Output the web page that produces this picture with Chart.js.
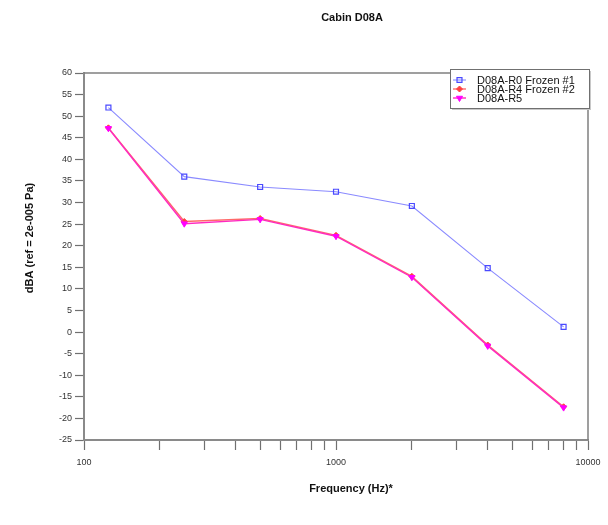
<!DOCTYPE html>
<html>
<head>
<meta charset="utf-8">
<script src="https://cdn.jsdelivr.net/npm/chart.js@4.4.0/dist/chart.umd.min.js"></script>
<style>
  html, body { margin: 0; padding: 0; background: #fff; }
  #wrap { width: 608px; height: 525px; position: relative; }
</style>
</head>
<body>
<div id="wrap"><canvas id="c" width="608" height="525"></canvas></div>
<script>
// ---- data ----
const chartTitle = "Cabin D08A";
const xTitle = "Frequency (Hz)*";
const yTitle = "dBA (ref = 2e-005 Pa)";
const frequencies = [125, 250, 500, 1000, 2000, 4000, 8000];
const seriesNames = ["D08A-R0 Frozen #1", "D08A-R4 Frozen #2", "D08A-R5"];
const r0Values = [52.0, 36.0, 33.6, 32.5, 29.2, 14.8, 1.2];
const r4Values = [47.3, 25.6, 26.3, 22.4, 12.9, -3.0, -17.3];
const r5Values = [47.2, 25.1, 26.1, 22.2, 12.7, -3.2, -17.5];
const xTickValues = [100, 200, 300, 400, 500, 600, 700, 800, 900, 1000, 2000, 3000, 4000, 5000, 6000, 7000, 8000, 9000, 10000];
const xTickLabels = ["100", "1000", "10000"];
const yMin = -25, yMax = 60, yStep = 5;

const FONT = '"Liberation Sans", Arial, sans-serif';

function pts(vals) { return frequencies.map((f, i) => ({ x: f, y: vals[i] })); }

const datasets = [
  { label: seriesNames[0], data: pts(r0Values), order: 2, borderColor: '#8a8aff', backgroundColor: 'rgba(255,255,255,0)',
    pointStyle: 'rect', pointRadius: 3.5, pointBorderColor: '#4a4aff', pointBackgroundColor: 'rgba(255,255,255,0)', pointBorderWidth: 1.2, borderWidth: 1.1 },
  { label: seriesNames[1], data: pts(r4Values), order: 1, borderColor: '#ff6a6a', backgroundColor: '#ff4040',
    pointStyle: 'rectRot', pointRadius: 3, pointBorderColor: '#ff4040', pointBackgroundColor: '#ff4040', pointBorderWidth: 1, borderWidth: 1.4 },
  { label: seriesNames[2], data: pts(r5Values), order: 0, borderColor: '#ff2ac0', backgroundColor: '#ff00ff',
    pointStyle: 'triangle', pointRotation: 180, pointRadius: 3.5, pointBorderColor: '#ff00ff', pointBackgroundColor: '#ff00ff', pointBorderWidth: 1, borderWidth: 1.4 }
];

const decor = {
  id: 'decor',
  beforeDatasetsDraw(chart) {
    const { ctx, chartArea: a } = chart;
    ctx.save();
    ctx.strokeStyle = '#808080';
    ctx.lineWidth = 1.5;
    ctx.beginPath();
    ctx.moveTo(a.left, a.top); ctx.lineTo(a.right, a.top); ctx.lineTo(a.right, a.bottom);
    ctx.stroke();
    ctx.restore();
  },
  afterDraw(chart) {
    const { ctx } = chart;
    ctx.save();
    // titles
    ctx.fillStyle = '#111';
    ctx.font = 'bold 11px ' + FONT;
    ctx.textAlign = 'center';
    ctx.textBaseline = 'middle';
    ctx.fillText(chartTitle, 352, 18);
    ctx.fillText(xTitle, 351, 489);
    ctx.save();
    ctx.translate(30, 238);
    ctx.rotate(-Math.PI / 2);
    ctx.fillText(yTitle, 0, 0);
    ctx.restore();

    // legend
    const bx = 450, by = 69, bw = 139, bh = 39;
    ctx.fillStyle = '#c8c8c8';
    ctx.fillRect(bx + 2, by + 2, bw, bh);
    ctx.fillStyle = '#fff';
    ctx.fillRect(bx, by, bw, bh);
    ctx.strokeStyle = '#707070';
    ctx.lineWidth = 1;
    ctx.strokeRect(bx + 0.5, by + 0.5, bw, bh);
    ctx.font = '11px ' + FONT;
    ctx.textAlign = 'left';
    ctx.textBaseline = 'middle';
    chart.data.datasets.forEach((ds, i) => {
      const y = 80 + i * 9;
      ctx.strokeStyle = ds.borderColor;
      ctx.lineWidth = ds.borderWidth;
      ctx.beginPath(); ctx.moveTo(453, y); ctx.lineTo(466, y); ctx.stroke();
      ctx.strokeStyle = ds.pointBorderColor;
      ctx.fillStyle = ds.pointBackgroundColor;
      ctx.lineWidth = ds.pointBorderWidth;
      Chart.helpers.drawPoint(ctx, { pointStyle: ds.pointStyle, rotation: ds.pointRotation || 0, radius: ds.pointRadius, borderWidth: ds.pointBorderWidth }, 459.5, y);
      ctx.fillStyle = '#111';
      ctx.fillText(ds.label, 477, y + 0.5);
    });
    ctx.restore();
  }
};

new Chart(document.getElementById('c'), {
  type: 'line',
  data: { datasets },
  options: {
    responsive: false,
    animation: false,
    layout: { padding: { left: 0, right: 20, top: 73, bottom: 0 } },
    plugins: { legend: { display: false }, title: { display: false }, tooltip: { enabled: false } },
    scales: {
      x: {
        type: 'logarithmic', min: 100, max: 10000,
        afterFit(s) { s.height = 85; },
        afterBuildTicks(s) { s.ticks = xTickValues.map(v => ({ value: v })); },
        grid: { drawOnChartArea: false, drawTicks: true, tickLength: 10, tickColor: '#707070', tickWidth: 1.2 },
        border: { display: true, color: '#8a8a8a', width: 2 },
        ticks: {
          autoSkip: false, maxRotation: 0, padding: 7, color: '#333',
          font: { size: 9, family: FONT },
          callback(v) { const s = String(v); return xTickLabels.includes(s) ? s : ''; }
        }
      },
      y: {
        min: yMin, max: yMax,
        afterFit(s) { s.width = 84; },
        grid: { drawOnChartArea: false, drawTicks: true, tickLength: 9, tickColor: '#707070', tickWidth: 1.2 },
        border: { display: true, color: '#8a8a8a', width: 2 },
        ticks: { stepSize: yStep, padding: 3, color: '#333', font: { size: 9, family: FONT } }
      }
    }
  },
  plugins: [decor]
});
</script>
</body>
</html>
